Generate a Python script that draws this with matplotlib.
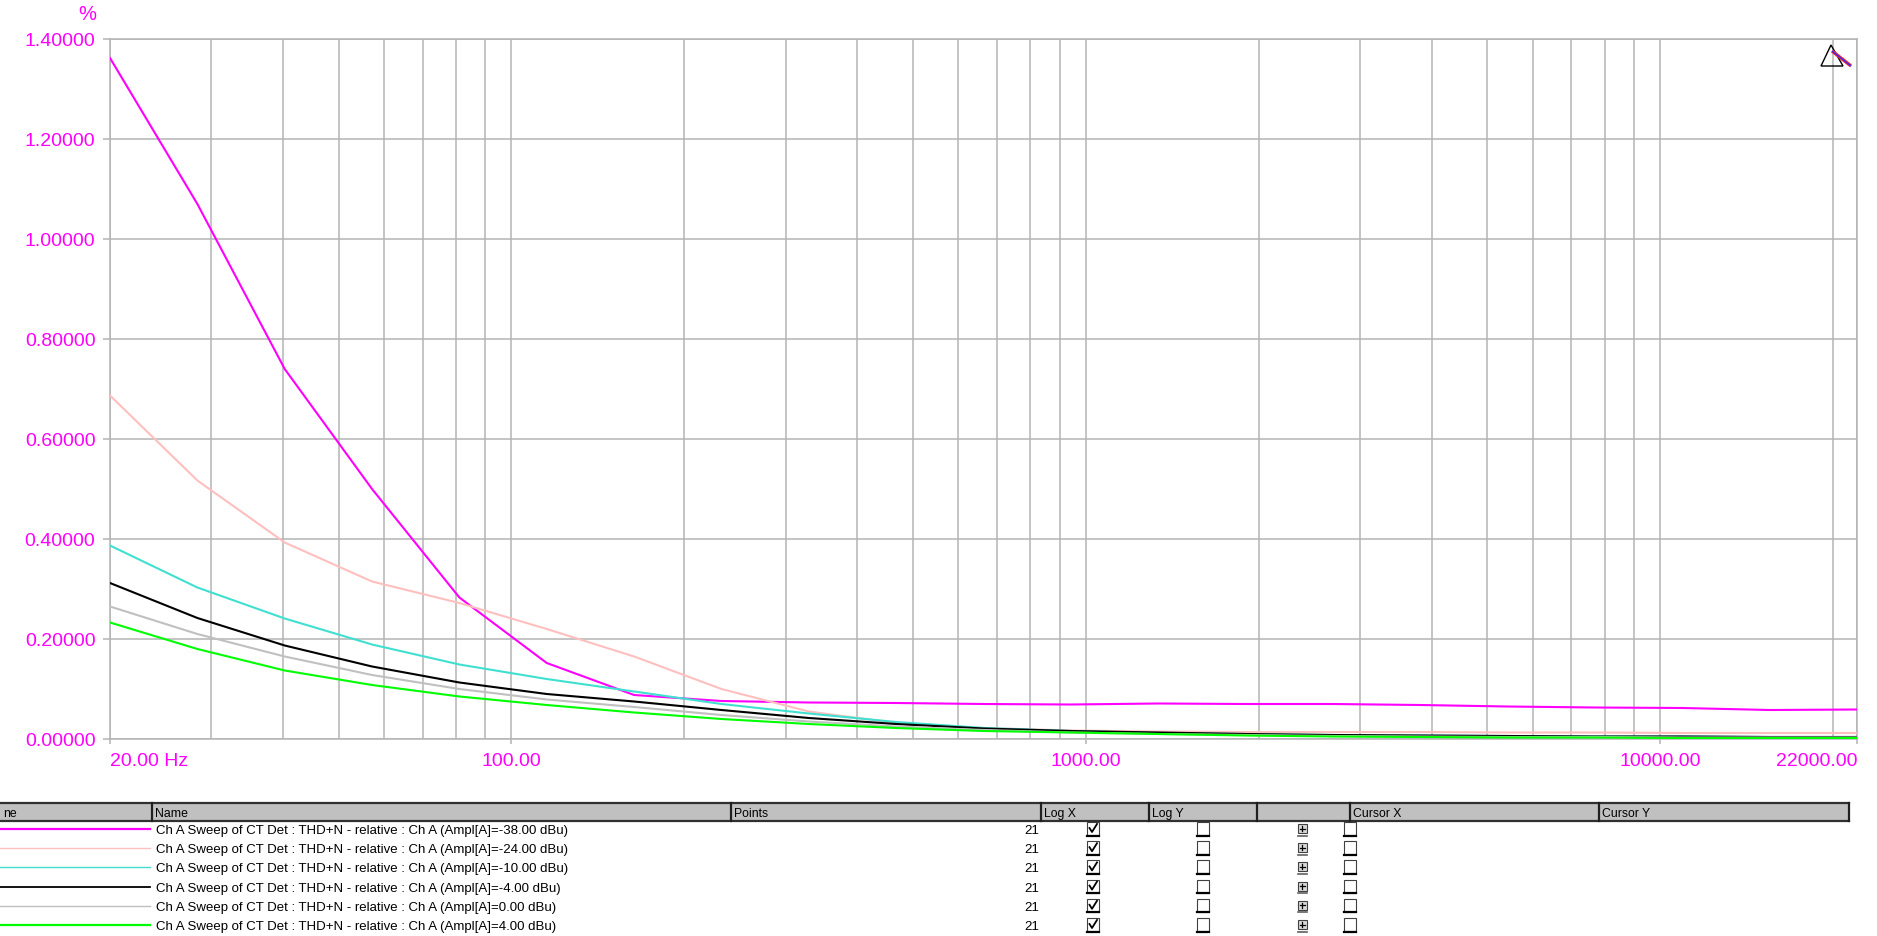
import matplotlib
matplotlib.use("Agg")
import matplotlib.pyplot as plt
from matplotlib.patches import Rectangle, Polygon
from matplotlib.ticker import FixedLocator, NullFormatter

plt.rcParams['font.family'] = ['Liberation Sans', 'DejaVu Sans']

# Sweep frequencies (Hz), 21 points per sweep
freqs = [20.0, 28.39, 40.29, 57.18, 81.15, 115.18, 163.47, 232.01, 329.28,
         467.34, 663.29, 941.39, 1336.1, 1896.3, 2691.3, 3819.7, 5421.3,
         7694.3, 10920.0, 15499.0, 22000.0]

# THD+N (%) for each generator amplitude
thdn_m38 = [1.362, 1.070, 0.740, 0.500, 0.283, 0.152, 0.088, 0.076, 0.073, 0.072,
            0.070, 0.069, 0.071, 0.070, 0.070, 0.068, 0.065, 0.063, 0.062, 0.058, 0.059]
thdn_m24 = [0.687, 0.517, 0.393, 0.315, 0.272, 0.220, 0.165, 0.100, 0.055, 0.032,
            0.022, 0.017, 0.015, 0.014, 0.014, 0.014, 0.013, 0.013, 0.012, 0.012, 0.012]
thdn_m10 = [0.387, 0.303, 0.241, 0.189, 0.149, 0.120, 0.095, 0.070, 0.051, 0.034,
            0.022, 0.016, 0.012, 0.010, 0.008, 0.007, 0.006, 0.005, 0.005, 0.004, 0.004]
thdn_m4 = [0.312, 0.242, 0.187, 0.145, 0.113, 0.090, 0.075, 0.058, 0.042, 0.030,
           0.021, 0.016, 0.013, 0.010, 0.008, 0.007, 0.006, 0.005, 0.005, 0.004, 0.004]
thdn_0 = [0.265, 0.210, 0.165, 0.128, 0.100, 0.079, 0.064, 0.048, 0.035, 0.025,
          0.018, 0.013, 0.010, 0.008, 0.006, 0.005, 0.004, 0.004, 0.003, 0.003, 0.003]
thdn_p4 = [0.233, 0.180, 0.137, 0.108, 0.085, 0.068, 0.053, 0.040, 0.030, 0.022,
           0.016, 0.013, 0.010, 0.007, 0.005, 0.004, 0.003, 0.003, 0.002, 0.002, 0.002]

amplitudes = [-38.0, -24.0, -10.0, -4.0, 0.0, 4.0]
series = [thdn_m38, thdn_m24, thdn_m10, thdn_m4, thdn_0, thdn_p4]
colors = ['#ff00ff', '#ffbfbf', '#40e0d0', '#000000', '#c0c0c0', '#00ff00']
widths = [1.5, 1.5, 1.5, 1.5, 1.5, 1.5]
sample_widths = [1.6, 1.0, 1.0, 1.3, 1.0, 1.6]

x_major = [20, 100, 1000, 10000, 22000]
x_major_labels = ['20.00 Hz', '100.00', '1000.00', '10000.00', '22000.00']
x_minor = [30, 40, 50, 60, 70, 80, 90, 200, 300, 400, 500, 600, 700, 800, 900,
           2000, 3000, 4000, 5000, 6000, 7000, 8000, 9000, 20000]
y_ticks = [0.0, 0.2, 0.4, 0.6, 0.8, 1.0, 1.2, 1.4]

ACCENT = '#ff00ff'
GRID = '#b4b4b4'
W, H = 1877, 937

fig = plt.figure(figsize=(W / 100, H / 100), dpi=100)
fig.patch.set_facecolor('white')

ax = fig.add_axes([110 / W, 1 - 740 / H, (1857 - 110) / W, 700 / H])
ax.set_xscale('log')
ax.set_xlim(20, 22000)
ax.set_ylim(0, 1.4)

for vals, col, lw in zip(series, colors, widths):
    ax.plot(freqs, vals, color=col, lw=lw, solid_joinstyle='miter', zorder=3)

ax.xaxis.set_major_locator(FixedLocator(x_major))
ax.xaxis.set_minor_locator(FixedLocator(x_minor))
ax.xaxis.set_minor_formatter(NullFormatter())
ax.set_xticklabels(x_major_labels)
ax.set_yticks(y_ticks)
ax.set_yticklabels([f'{v:.5f}' for v in y_ticks])

ax.grid(True, which='both', axis='x', color=GRID, lw=1.1)
ax.grid(True, which='major', axis='y', color=GRID, lw=1.1)
ax.set_axisbelow(True)
for sp in ax.spines.values():
    sp.set_color(GRID)
    sp.set_linewidth(1.1)

ax.tick_params(axis='x', which='major', length=3.6, width=1.1, color=GRID,
               pad=5.5, labelsize=14, labelcolor=ACCENT)
ax.tick_params(axis='x', which='minor', length=0)
ax.tick_params(axis='y', which='major', length=5, width=1.1, color=GRID,
               pad=5.5, labelsize=14, labelcolor=ACCENT)

xl = ax.get_xticklabels()
xl[0].set_ha('left')
xl[-1].set_ha('right')

fig.text(87 / W, 1 - 15 / H, '%', color=ACCENT, fontsize=14.5, ha='center', va='center')

# Overlay in pixel coordinates for the marker icon and the trace table
ov = fig.add_axes([0, 0, 1, 1], zorder=5)
ov.set_xlim(0, W)
ov.set_ylim(H, 0)
ov.axis('off')
ov.patch.set_alpha(0)

# Marker icon at top right
ov.add_patch(Polygon([[1831, 46], [1821, 67], [1843, 67]], closed=True,
                     fill=False, edgecolor='black', lw=1.0))
ov.plot([1832, 1851], [52, 67], color='#ff2020', lw=2.4, solid_capstyle='butt')
ov.plot([1832, 1851], [52, 67], color='#3030ff', lw=1.0, solid_capstyle='butt')

# Table header
hdr_top, hdr_bot = 804, 822
col_edges = [0, 152, 731, 1041, 1149, 1257, 1350, 1599, 1849]
headers = ['ne', 'Name', 'Points', 'Log X', 'Log Y', '', 'Cursor X', 'Cursor Y']
ov.add_patch(Rectangle((0, hdr_top), 1849, hdr_bot - hdr_top,
                       facecolor='#c0c0c0', edgecolor='none'))
ov.plot([0, 1849], [hdr_top, hdr_top], color='#303030', lw=1.6)
ov.plot([0, 1849], [hdr_bot, hdr_bot], color='#303030', lw=1.6)
for xe in col_edges[1:]:
    ov.plot([xe, xe], [hdr_top, hdr_bot], color='#202020', lw=1.6)
for x0, label in zip(col_edges[:-1], headers):
    ov.text(x0 + 3, (hdr_top + hdr_bot) / 2 + 1, label, fontsize=8.8,
            color='black', ha='left', va='center')

row_y0, row_dy = 830, 19.2
for i, (amp, col, lw) in enumerate(zip(amplitudes, colors, sample_widths)):
    y = row_y0 + i * row_dy
    ov.plot([0, 150], [y, y], color=col, lw=lw)
    ov.text(156, y + 1, f'Ch A Sweep of CT Det : THD+N - relative : Ch A (Ampl[A]={amp:.2f} dBu)',
            fontsize=9.5, color='black', ha='left', va='center')
    ov.text(1039, y + 1, str(len(freqs)), fontsize=9.5, color='black',
            ha='right', va='center')
    # Log X checkbox (checked)
    bx = 1087
    ov.add_patch(Rectangle((bx, y - 7), 12, 13, facecolor='white',
                           edgecolor='#404040', lw=0.8))
    ov.plot([bx, bx + 12], [y + 6.5, y + 6.5], color='black', lw=1.6)
    ov.plot([bx + 2.5, bx + 5, bx + 10], [y - 1, y + 3, y - 5], color='black', lw=1.3)
    # Log Y checkbox
    bx = 1197
    ov.add_patch(Rectangle((bx, y - 7), 12, 13, facecolor='white',
                           edgecolor='#404040', lw=0.8))
    ov.plot([bx, bx + 12], [y + 6.5, y + 6.5], color='black', lw=1.6)
    # expand icon
    bx = 1298
    ov.add_patch(Rectangle((bx, y - 5), 9, 9, facecolor='#d8d8d8',
                           edgecolor='#404040', lw=0.8))
    ov.plot([bx + 2, bx + 7], [y - 0.5, y - 0.5], color='black', lw=0.9)
    ov.plot([bx + 4.5, bx + 4.5], [y - 3, y + 2], color='black', lw=0.9)
    ov.plot([bx, bx + 9], [y + 6.5, y + 6.5], color='#606060', lw=1.2)
    # Cursor checkbox
    bx = 1344
    ov.add_patch(Rectangle((bx, y - 7), 12, 13, facecolor='white',
                           edgecolor='#404040', lw=0.8))
    ov.plot([bx, bx + 12], [y + 6.5, y + 6.5], color='black', lw=1.6)

fig.savefig('out.png', dpi=100, facecolor='white')
